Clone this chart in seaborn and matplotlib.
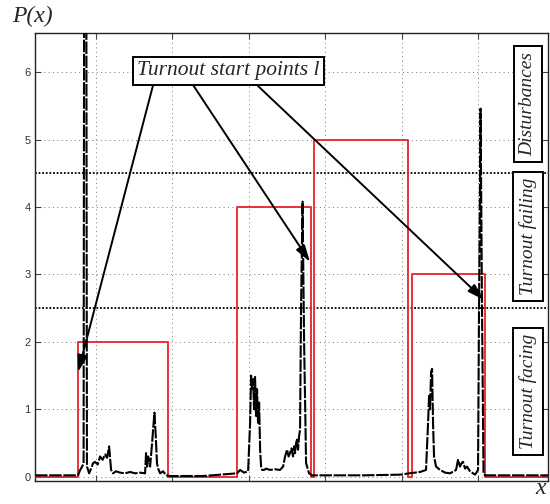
import matplotlib
matplotlib.use("Agg")
import matplotlib.pyplot as plt
import seaborn as sns
import pandas as pd

# ---------------- data ----------------
# red step function: bin edges and levels (class of the track section)
step_edges = [0.20, 0.764, 1.942, 2.846, 3.808, 3.853, 5.084, 5.136, 6.092, 6.916]
step_levels = [0, 2, 0, 4, 0, 5, 0, 3, 0]

# black curve P(x)
curve_x = [0.20, 0.764, 0.791, 0.817, 0.836, 0.845, 0.870, 0.880, 0.895, 0.908,
           0.935, 0.960, 0.987, 1.020, 1.052, 1.085, 1.118, 1.144, 1.170, 1.196,
           1.223, 1.260, 1.314, 1.380, 1.445, 1.510, 1.576, 1.641, 1.654, 1.668,
           1.681, 1.707, 1.733, 1.746, 1.764, 1.781, 1.797, 1.812, 1.838, 1.877,
           1.916, 1.969, 2.400, 2.846, 2.885, 2.937, 2.990, 3.016, 3.029, 3.042,
           3.055, 3.068, 3.081, 3.094, 3.107, 3.120, 3.134, 3.147, 3.160, 3.173,
           3.199, 3.225, 3.277, 3.342, 3.408, 3.448, 3.474, 3.500, 3.520, 3.539,
           3.558, 3.578, 3.592, 3.605, 3.618, 3.631, 3.644, 3.657, 3.670, 3.683,
           3.703, 3.723, 3.749, 3.788, 3.827, 3.932, 4.500, 4.979, 5.100, 5.241,
           5.319, 5.346, 5.359, 5.372, 5.385, 5.398, 5.411, 5.424, 5.450, 5.503,
           5.570, 5.634, 5.712, 5.738, 5.764, 5.784, 5.804, 5.830, 5.856, 5.895,
           5.961, 6.000, 6.013, 6.033, 6.052, 6.072, 6.092, 6.500, 6.916]
curve_p = [0.02, 0.02, 0.10, 0.15, 0.20, 9.00, 9.00, 0.15, 0.10, 0.05,
           0.12, 0.20, 0.22, 0.18, 0.30, 0.25, 0.33, 0.28, 0.45, 0.10,
           0.05, 0.08, 0.06, 0.05, 0.07, 0.05, 0.06, 0.05, 0.35, 0.15,
           0.30, 0.15, 0.50, 0.70, 0.95, 0.60, 0.20, 0.12, 0.05, 0.08,
           0.02, 0.01, 0.01, 0.05, 0.10, 0.06, 0.08, 0.80, 1.50, 1.30,
           1.45, 1.00, 1.48, 0.90, 1.30, 0.80, 1.10, 0.40, 0.15, 0.10,
           0.10, 0.12, 0.10, 0.11, 0.10, 0.15, 0.30, 0.40, 0.30, 0.35,
           0.42, 0.30, 0.45, 0.35, 0.50, 0.55, 0.40, 0.60, 0.70, 2.50,
           4.08, 2.00, 0.20, 0.05, 0.02, 0.02, 0.02, 0.03, 0.05, 0.07,
           0.10, 0.80, 1.20, 1.00, 1.55, 1.60, 0.80, 0.30, 0.15, 0.10,
           0.06, 0.05, 0.10, 0.25, 0.15, 0.20, 0.22, 0.12, 0.15, 0.08,
           0.03, 0.10, 2.50, 5.46, 2.50, 0.05, 0.02, 0.02, 0.02]

y_ticks = [0, 1, 2, 3, 4, 5, 6]
x_ticks = [1, 2, 3, 4, 5, 6]
zone_bounds = [2.5, 4.5]
zone_labels = ["Disturbances", "Turnout failing", "Turnout facing"]
zone_label_y = [5.53, 3.57, 1.27]

annot_text = "Turnout start points l"
annot_box = (2.729, 6.02)
arrow_starts = [(1.746, 5.81), (2.270, 5.81), (3.107, 5.81)]
arrow_tips = [(0.764, 1.553), (3.801, 3.186), (6.079, 2.622)]

# ---------------- plot ----------------
sns.set_style("ticks")
plt.rcParams["font.family"] = ["Liberation Sans", "DejaVu Sans"]
serif = ["Liberation Serif", "DejaVu Serif"]

fig = plt.figure(figsize=(5.5, 5.04), dpi=100)
ax = fig.add_axes([35 / 550, (504 - 481) / 504, (548 - 35) / 550, (481 - 33) / 504])

step_df = pd.DataFrame({"x": step_edges, "P": step_levels + [0]})
sns.lineplot(data=step_df, x="x", y="P", ax=ax, sort=False, drawstyle="steps-post",
             color="#e8222a", lw=1.3, zorder=3)

curve_df = pd.DataFrame({"x": curve_x, "P": curve_p})
sns.lineplot(data=curve_df, x="x", y="P", ax=ax, sort=False, color="black",
             lw=1.5, linestyle=(0, (6, 0.8)), zorder=4)

for b in zone_bounds:
    ax.axhline(b, color="black", lw=1.3, linestyle=(0, (1, 1)), zorder=2)

ax.set_xlim(step_edges[0], step_edges[-1])
ax.set_ylim(-0.064, 6.583)
ax.set_xticks(x_ticks)
ax.set_xticklabels([])
ax.set_yticks(y_ticks)
ax.set_yticklabels([str(t) for t in y_ticks], fontsize=8, color="#333333")
ax.tick_params(direction="in", top=True, right=True, length=4, width=0.8,
               color="#444444", pad=3)
ax.grid(True, color="#777777", lw=0.7, linestyle=(0, (1, 3.5)))
ax.set_xlabel("")
ax.set_ylabel("")
for s in ax.spines.values():
    s.set_visible(True)
    s.set_linewidth(1.0)
    s.set_color("#222222")

ax.text(annot_box[0], annot_box[1], annot_text, ha="center", va="center",
        fontsize=15.5, fontstyle="italic", family=serif, zorder=6,
        bbox=dict(boxstyle="square,pad=0.2", fc="white", ec="black", lw=1.4))
for st, tp in zip(arrow_starts, arrow_tips):
    ax.annotate("", xy=tp, xytext=st, zorder=5,
                arrowprops=dict(arrowstyle="-|>,head_length=1.0,head_width=0.3",
                                color="black", lw=1.4, shrinkA=0, shrinkB=0))

for lab, yy in zip(zone_labels, zone_label_y):
    ax.text(6.655, yy, lab, rotation=90, ha="center", va="center", fontsize=14,
            fontstyle="italic", family=serif, zorder=6,
            bbox=dict(boxstyle="square,pad=0.3", fc="white", ec="black", lw=1.4))

fig.text(12 / 550, 1 - 16 / 504, "P(x)", ha="left", va="center", fontsize=17,
         fontstyle="italic", family=serif)
fig.text(541 / 550, 1 - 488 / 504, "x", ha="center", va="center", fontsize=17,
         fontstyle="italic", family=serif)

fig.savefig("out.png", dpi=100)
